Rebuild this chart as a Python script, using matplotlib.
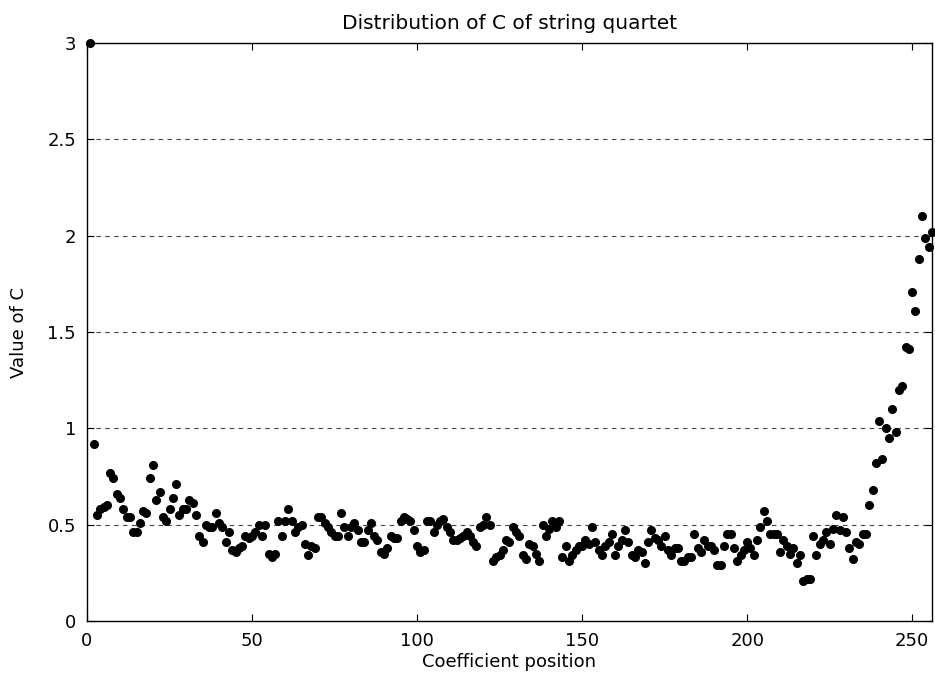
import numpy as np
import matplotlib.pyplot as plt

plt.rcParams['font.family'] = ['DejaVu Sans']

# Valeurs de C par position de coefficient
c_1_47 = [3.00, 0.92, 0.55, 0.58, 0.59, 0.60, 0.77, 0.74, 0.66, 0.64,
          0.58, 0.54, 0.54, 0.46, 0.46, 0.51, 0.57, 0.56, 0.74, 0.81,
          0.63, 0.67, 0.54, 0.52, 0.58, 0.64, 0.71, 0.55, 0.58, 0.58,
          0.63, 0.61, 0.55, 0.44, 0.41, 0.50, 0.49, 0.49, 0.56, 0.51,
          0.49, 0.41, 0.46, 0.37, 0.36, 0.38, 0.39]
c_48_87 = [0.44, 0.43, 0.44, 0.46, 0.50, 0.44, 0.50, 0.35, 0.33, 0.35,
           0.52, 0.44, 0.52, 0.58, 0.52, 0.46, 0.49, 0.50, 0.40, 0.34,
           0.39, 0.38, 0.54, 0.54, 0.51, 0.49, 0.46, 0.44, 0.44, 0.56,
           0.49, 0.44, 0.49, 0.51, 0.47, 0.41, 0.41, 0.47, 0.51, 0.44]
c_88_132 = [0.42, 0.36, 0.35, 0.38, 0.44, 0.43, 0.43, 0.52, 0.54, 0.53,
            0.52, 0.47, 0.39, 0.36, 0.37, 0.52, 0.52, 0.46, 0.50, 0.52,
            0.53, 0.49, 0.46, 0.42, 0.42, 0.43, 0.44, 0.46, 0.44, 0.41,
            0.39, 0.49, 0.50, 0.54, 0.50, 0.31, 0.33, 0.34, 0.37, 0.42,
            0.41, 0.49, 0.46, 0.44, 0.34]
c_133_175 = [0.32, 0.40, 0.39, 0.35, 0.31, 0.50, 0.44, 0.48, 0.52, 0.49,
             0.52, 0.33, 0.39, 0.31, 0.34, 0.37, 0.39, 0.39, 0.42, 0.40,
             0.49, 0.41, 0.37, 0.34, 0.39, 0.41, 0.45, 0.34, 0.39, 0.42,
             0.47, 0.41, 0.34, 0.33, 0.37, 0.36, 0.30, 0.41, 0.47, 0.43,
             0.42, 0.39, 0.44]
c_176_219 = [0.37, 0.34, 0.38, 0.38, 0.31, 0.31, 0.33, 0.33, 0.45, 0.38,
             0.36, 0.42, 0.39, 0.39, 0.37, 0.29, 0.29, 0.39, 0.45, 0.45,
             0.38, 0.31, 0.34, 0.37, 0.41, 0.38, 0.34, 0.42, 0.49, 0.57,
             0.52, 0.45, 0.45, 0.45, 0.36, 0.42, 0.39, 0.35, 0.38, 0.30,
             0.34, 0.21, 0.22, 0.22]
c_220_256 = [0.44, 0.34, 0.40, 0.42, 0.46, 0.40, 0.48, 0.55, 0.47, 0.54,
             0.46, 0.38, 0.32, 0.41, 0.40, 0.45, 0.45, 0.60, 0.68, 0.82,
             1.04, 0.84, 1.00, 0.95, 1.10, 0.98, 1.20, 1.22, 1.42, 1.41,
             1.71, 1.61, 1.88, 2.10, 1.99, 1.94, 2.02]

valores_c = np.array(c_1_47 + c_48_87 + c_88_132 + c_133_175 + c_176_219 + c_220_256)
posiciones = np.arange(1, len(valores_c) + 1)

fig = plt.figure(figsize=(9.35, 6.84), dpi=100)
ax = fig.add_axes([87 / 935, 1 - 621 / 684, (932 - 87) / 935, (621 - 43) / 684])

# Rejilla horizontal discontinua
for yv in np.arange(0.5, 3.01, 0.5):
    ax.axhline(yv, color='#444444', linestyle=(0, (4, 4)), linewidth=0.8, zorder=1)

ax.plot(posiciones, valores_c, 'o', color='black', markersize=5.5, zorder=3, clip_on=False)

ax.set_xlim(0, 256)
ax.set_ylim(0, 3)
ax.set_xticks(np.arange(0, 251, 50))
ax.set_yticks(np.arange(0, 3.01, 0.5))
ax.set_yticklabels(['0', '0.5', '1', '1.5', '2', '2.5', '3'])
ax.tick_params(direction='in', top=True, right=True, length=5, labelsize=13)
ax.tick_params(axis='x', pad=8)
ax.tick_params(axis='y', pad=8)
for s in ax.spines.values():
    s.set_linewidth(1.0)

ax.set_xlabel('Coefficient position', fontsize=13, labelpad=2)
ax.set_ylabel('Value of C', fontsize=13, labelpad=14)
ax.set_title('Distribution of C of string quartet', fontsize=14.5, pad=10)

fig.savefig('out.png', dpi=100)
